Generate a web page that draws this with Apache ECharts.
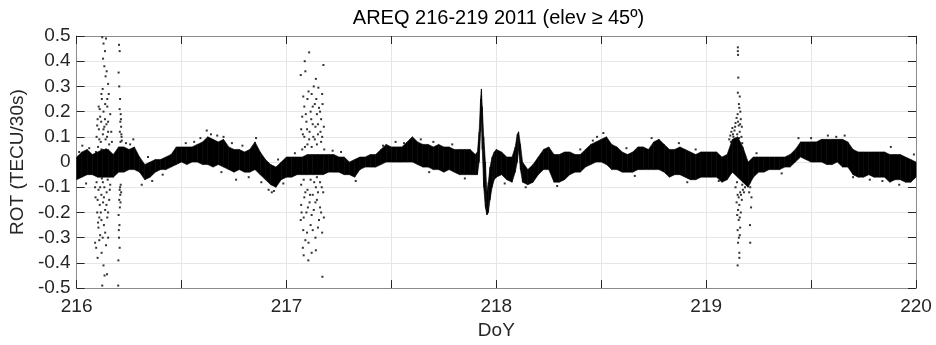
<!DOCTYPE html>
<html><head><meta charset="utf-8">
<script src="https://cdn.jsdelivr.net/npm/echarts@6/dist/echarts.min.js"></script>
<style>html,body{margin:0;padding:0;background:#fff}#c{width:936px;height:345px}</style>
</head><body><div id="c"></div>
<script>
// Dense band of ROT values: day of year, upper and lower edge
const bandDays = [216.000,216.025,216.050,216.075,216.100,216.125,216.150,216.175,216.200,216.225,216.250,216.275,216.300,216.325,216.350,216.375,216.400,216.425,216.450,216.475,216.500,216.525,216.550,216.575,216.600,216.625,216.650,216.675,216.700,216.725,216.750,216.775,216.800,216.825,216.850,216.875,216.900,216.925,216.950,216.975,
217.000,217.025,217.050,217.075,217.100,217.125,217.150,217.175,217.200,217.225,217.250,217.275,217.300,217.325,217.350,217.375,217.400,217.425,217.450,217.475,217.500,217.525,217.550,217.575,217.600,217.625,217.650,217.675,217.700,217.725,217.750,217.775,217.800,217.825,217.850,217.875,217.900,217.910,217.918,217.925,217.929,217.933,217.940,217.948,217.955,217.962,217.970,217.980,217.990,
218.000,218.025,218.050,218.075,218.090,218.100,218.106,218.115,218.125,218.150,218.175,218.200,218.225,218.250,218.275,218.300,218.325,218.350,218.375,218.400,218.425,218.450,218.475,218.500,218.525,218.550,218.575,218.600,218.625,218.650,218.675,218.700,218.725,218.750,218.775,218.800,218.825,218.850,218.875,218.900,218.925,218.950,218.975,
219.000,219.025,219.050,219.075,219.100,219.125,219.150,219.175,219.200,219.225,219.250,219.275,219.300,219.325,219.350,219.375,219.400,219.425,219.450,219.475,219.500,219.525,219.550,219.575,219.600,219.625,219.650,219.675,219.700,219.725,219.750,219.775,219.800,219.825,219.850,219.875,219.900,219.925,219.950,219.975,220.000];
const bandTop = [0.02,0.04,0.05,0.03,0.04,0.05,0.05,0.03,0.06,0.06,0.05,0.06,0.02,-0.01,0.00,0.01,0.01,0.02,0.03,0.06,0.06,0.06,0.06,0.07,0.08,0.10,0.09,0.08,0.09,0.06,0.05,0.05,0.04,0.05,0.08,0.04,0.01,-0.01,-0.02,0.00,
0.02,0.02,0.02,0.02,0.03,0.03,0.03,0.03,0.03,0.03,0.02,0.02,0.00,0.01,0.02,0.02,0.03,0.03,0.05,0.07,0.06,0.06,0.06,0.08,0.10,0.08,0.07,0.07,0.06,0.07,0.06,0.06,0.05,0.05,0.05,0.05,0.03,0.04,0.12,0.25,0.29,0.22,0.10,0.00,-0.12,-0.08,-0.02,0.02,0.04,
0.05,0.04,0.02,0.02,0.06,0.11,0.12,0.07,0.00,-0.03,-0.01,0.02,0.05,0.06,0.03,0.03,0.04,0.04,0.03,0.03,0.05,0.07,0.08,0.09,0.10,0.07,0.06,0.04,0.03,0.04,0.06,0.06,0.05,0.08,0.09,0.07,0.05,0.05,0.06,0.05,0.04,0.03,0.04,
0.04,0.04,0.04,0.02,0.03,0.09,0.10,0.06,0.00,0.02,0.02,0.02,0.02,0.02,0.02,0.02,0.03,0.05,0.08,0.08,0.08,0.08,0.09,0.09,0.09,0.09,0.09,0.08,0.05,0.04,0.04,0.04,0.04,0.04,0.04,0.03,0.03,0.03,0.02,0.01,0.00];
const bandBottom = [-0.07,-0.06,-0.05,-0.05,-0.06,-0.06,-0.06,-0.06,-0.04,-0.04,-0.03,-0.03,-0.04,-0.07,-0.06,-0.04,-0.03,-0.03,-0.02,-0.01,0.00,-0.01,0.00,0.00,-0.01,-0.01,-0.02,-0.01,-0.02,-0.03,-0.04,-0.03,-0.04,-0.04,-0.03,-0.05,-0.07,-0.09,-0.10,-0.07,
-0.06,-0.06,-0.05,-0.05,-0.05,-0.05,-0.05,-0.05,-0.04,-0.04,-0.04,-0.05,-0.05,-0.06,-0.03,-0.02,-0.02,-0.02,-0.01,0.00,0.00,0.00,0.00,0.00,0.00,-0.01,-0.02,-0.02,-0.03,-0.03,-0.04,-0.03,-0.04,-0.05,-0.05,-0.05,-0.05,-0.05,0.00,0.12,0.18,0.05,-0.10,-0.18,-0.21,-0.20,-0.15,-0.10,-0.07,
-0.06,-0.05,-0.07,-0.08,-0.04,0.00,0.05,-0.03,-0.08,-0.09,-0.08,-0.05,-0.03,-0.03,-0.08,-0.08,-0.07,-0.05,-0.04,-0.04,-0.02,-0.01,0.00,0.00,-0.01,-0.03,-0.03,-0.04,-0.04,-0.04,-0.03,-0.03,-0.03,-0.03,-0.03,-0.04,-0.06,-0.05,-0.05,-0.06,-0.07,-0.07,-0.06,
-0.06,-0.06,-0.06,-0.08,-0.07,-0.04,-0.06,-0.08,-0.10,-0.06,-0.04,-0.04,-0.03,-0.03,-0.03,-0.02,-0.02,0.00,0.02,0.01,0.00,0.00,0.00,-0.01,-0.01,0.00,-0.02,-0.02,-0.05,-0.06,-0.06,-0.05,-0.06,-0.06,-0.06,-0.08,-0.07,-0.07,-0.08,-0.08,-0.06];

// Scattered samples outside the dense band: [day, ROT]
const scatterPoints = [
[216.122,0.495],[216.140,0.49],[216.128,0.47],[216.135,0.44],[216.126,0.41],[216.132,0.38],[216.143,0.36],[216.138,0.34],[216.150,0.31],[216.124,0.29],[216.153,0.27],[216.120,0.25],[216.136,0.23],[216.146,0.22],[216.110,0.21],[216.128,0.20],[216.160,0.19],[216.100,0.17],[216.117,0.16],[216.142,0.15],[216.132,0.14],[216.106,0.13],[216.150,0.12],[216.125,0.11],[216.095,0.10],[216.138,0.09],[216.115,0.08],[216.155,0.07],[216.102,0.06],
[216.105,0.22],[216.112,0.18],[216.135,0.17],[216.150,0.16],[216.098,0.145],[216.128,0.13],[216.145,0.10],[216.108,0.09],[216.118,0.05],[216.140,0.05],[216.092,0.04],[216.155,0.03],[216.165,0.12],[216.168,0.08],[216.118,0.27],[216.146,0.25],
[216.202,0.465],[216.205,0.44],[216.200,0.355],[216.203,0.30],[216.207,0.25],[216.205,0.21],[216.210,0.19],[216.208,0.16],[216.212,0.14],[216.206,0.12],[216.214,0.10],[216.209,0.08],[216.211,0.17],[216.213,0.11],[216.215,0.085],
[216.122,-0.49],[216.133,-0.45],[216.145,-0.445],[216.128,-0.41],[216.100,-0.38],[216.088,-0.32],[216.093,-0.34],[216.112,-0.29],[216.124,-0.30],[216.140,-0.33],[216.150,-0.30],[216.104,-0.26],[216.130,-0.25],[216.118,-0.23],[216.146,-0.22],[216.098,-0.20],[216.136,-0.19],[216.110,-0.17],[216.126,-0.16],[216.155,-0.15],[216.090,-0.14],[216.118,-0.13],[216.143,-0.12],[216.104,-0.11],[216.132,-0.10],[216.160,-0.09],[216.095,-0.08],[216.125,-0.08],
[216.108,-0.22],[216.115,-0.20],[216.142,-0.17],[216.150,-0.20],[216.100,-0.15],[216.130,-0.14],[216.112,-0.10],[216.148,-0.07],[216.120,-0.065],[216.088,-0.10],[216.158,-0.11],[216.136,-0.28],[216.108,-0.31],[216.119,-0.36],[216.102,-0.24],
[216.198,-0.49],[216.199,-0.39],[216.202,-0.30],[216.204,-0.25],[216.200,-0.21],[216.206,-0.18],[216.203,-0.15],[216.208,-0.13],[216.205,-0.11],[216.210,-0.09],[216.207,-0.10],[216.212,-0.12],[216.209,-0.16],[216.201,-0.27],[216.205,-0.34],
[217.108,0.435],[217.087,0.40],[217.176,0.385],[217.068,0.345],[217.090,0.36],[217.140,0.33],[217.130,0.30],[217.152,0.295],[217.120,0.27],[217.170,0.27],[217.100,0.25],[217.135,0.23],[217.085,0.22],[217.155,0.215],[217.115,0.20],[217.145,0.19],[217.075,0.18],[217.165,0.17],[217.095,0.16],[217.125,0.15],[217.178,0.14],[217.070,0.13],[217.110,0.12],[217.150,0.11],[217.085,0.10],[217.135,0.09],[217.165,0.08],[217.100,0.07],[217.120,0.06],[217.075,0.05],[217.180,0.05],
[217.080,0.26],[217.105,0.28],[217.125,0.22],[217.142,0.25],[217.160,0.20],[217.172,0.23],[217.092,0.19],[217.118,0.17],[217.138,0.14],[217.150,0.15],[217.162,0.12],[217.098,0.13],[217.078,0.11],[217.128,0.10],[217.145,0.07],[217.170,0.10],[217.108,0.09],[217.088,0.06],
[217.171,-0.455],[217.104,-0.39],[217.082,-0.37],[217.120,-0.36],[217.140,-0.35],[217.078,-0.34],[217.090,-0.31],[217.105,-0.32],[217.138,-0.30],[217.170,-0.28],[217.068,-0.23],[217.082,-0.22],[217.178,-0.22],[217.115,-0.25],[217.150,-0.26],[217.095,-0.20],[217.130,-0.19],[217.160,-0.18],[217.070,-0.17],[217.110,-0.16],[217.145,-0.15],[217.085,-0.14],[217.125,-0.13],[217.175,-0.12],[217.100,-0.11],[217.140,-0.10],[217.070,-0.09],[217.160,-0.08],[217.115,-0.07],
[217.080,-0.27],[217.098,-0.28],[217.125,-0.27],[217.155,-0.23],[217.165,-0.20],[217.072,-0.20],[217.102,-0.18],[217.120,-0.21],[217.138,-0.16],[217.150,-0.12],[217.090,-0.12],[217.112,-0.13],[217.132,-0.08],[217.168,-0.10],[217.082,-0.07],[217.145,-0.06],
[219.151,0.455],[219.151,0.44],[219.152,0.425],[219.153,0.335],[219.151,0.275],[219.160,0.26],[219.156,0.23],[219.158,0.215],[219.163,0.20],[219.150,0.19],[219.145,0.175],[219.165,0.17],[219.140,0.155],[219.155,0.145],[219.170,0.14],[219.125,0.135],[219.135,0.125],[219.160,0.12],[219.148,0.11],[219.115,0.105],[219.130,0.10],
[219.120,0.12],[219.128,0.11],[219.138,0.14],[219.142,0.09],[219.152,0.16],[219.162,0.15],[219.168,0.10],[219.118,0.08],[219.110,0.09],[219.133,0.08],[219.157,0.095],[219.172,0.075],
[219.150,-0.41],[219.158,-0.38],[219.152,-0.32],[219.210,-0.32],[219.156,-0.30],[219.160,-0.29],[219.150,-0.27],[219.162,-0.26],[219.209,-0.25],[219.155,-0.23],[219.148,-0.21],[219.165,-0.20],[219.214,-0.18],[219.158,-0.17],[219.145,-0.16],[219.170,-0.15],[219.216,-0.14],[219.150,-0.13],[219.162,-0.12],[219.175,-0.11],[219.140,-0.10],[219.210,-0.10],
[219.152,-0.19],[219.160,-0.22],[219.155,-0.14],[219.166,-0.13],[219.172,-0.09],[219.180,-0.12],[219.185,-0.10],[219.195,-0.09],[219.205,-0.12],[219.208,-0.08],[219.147,-0.08],[219.158,-0.36],
[216.027,0.065],[216.045,-0.085],[216.270,0.09],[216.310,-0.09],[216.410,-0.05],[216.620,0.125],[216.640,0.11],[216.700,0.10],[216.760,-0.07],[216.855,0.095],[216.880,-0.08],[216.915,-0.11],[216.930,-0.12],[216.940,-0.115],
[216.012,0.04],[216.060,0.055],[216.235,0.075],[216.255,0.07],[216.340,0.02],[216.360,-0.075],[216.520,0.075],[216.560,0.08],[216.590,0.095],[216.670,0.105],[216.690,-0.04],[216.740,0.075],[216.790,0.065],[216.820,-0.06],[216.960,0.01],[216.985,-0.085],
[217.040,0.035],[217.220,0.045],[217.260,0.04],[217.330,-0.075],[217.460,0.065],[217.520,0.08],[217.560,0.075],[217.640,0.09],[217.680,-0.04],[217.700,0.08],[217.790,0.07],[217.850,-0.065],
[218.040,-0.085],[218.140,-0.10],[218.290,-0.095],[218.400,0.05],[218.460,0.085],[218.480,0.10],[218.510,0.115],[218.620,0.055],[218.660,-0.055],[218.740,0.095],[218.870,0.075],[218.910,-0.08],[218.950,0.05],
[219.060,-0.075],[219.240,0.035],[219.360,-0.045],[219.440,0.095],[219.500,0.095],[219.580,0.105],[219.620,0.10],[219.660,0.105],[219.700,-0.06],[219.780,-0.07],[219.840,-0.075],[219.880,0.06],[219.920,-0.09],[219.990,0.03]
];

const xTicks = {min: 216, max: 220, step: 0.5};
const yTicks = {min: -0.5, max: 0.5, step: 0.1};

const font = 'Liberation Sans, Arial, Helvetica, sans-serif';
const bandData = bandDays.map((d, i) => [d, bandTop[i], bandBottom[i]]);
const axisCol = '#8c8c8c';
const tickStyle = {show: true, inside: true, length: 8, lineStyle: {color: '#262626', width: 1}};

function renderBand(params, api) {
  const i = params.dataIndex;
  if (i >= bandData.length - 1) return null;
  const a = bandData[i], b = bandData[i + 1];
  const pts = [api.coord([a[0], a[1]]), api.coord([b[0], b[1]]), api.coord([b[0], b[2]]), api.coord([a[0], a[2]])];
  return {type: 'polygon', shape: {points: pts}, style: {fill: '#000', stroke: '#000', lineWidth: 0.6}};
}

const chart = echarts.init(document.getElementById('c'), null, {renderer: 'canvas'});
chart.setOption({
  animation: false,
  backgroundColor: '#ffffff',
  title: {
    text: 'AREQ 216-219 2011 (elev \u2265 45\u00ba)',
    left: 493.5, textAlign: 'center', top: 3,
    textStyle: {fontFamily: font, fontSize: 20, fontWeight: 'normal', color: '#000'}
  },
  grid: {left: 71, right: 20, top: 36, bottom: 52, containLabel: false},
  xAxis: [{
    type: 'value', min: xTicks.min, max: xTicks.max, interval: xTicks.step,
    name: 'DoY', nameLocation: 'middle', nameGap: 26,
    nameTextStyle: {fontFamily: font, fontSize: 19, color: '#262626'},
    axisLine: {show: true, onZero: false, lineStyle: {color: axisCol}},
    axisTick: tickStyle,
    axisLabel: {fontFamily: font, fontSize: 19, color: '#262626', margin: 9,
      formatter: v => Math.abs(v - Math.round(v)) < 1e-6 ? String(Math.round(v)) : ''},
    splitLine: {show: true, lineStyle: {color: '#e6e6e6', width: 1}}
  }, {
    type: 'value', position: 'top', min: xTicks.min, max: xTicks.max, interval: xTicks.step,
    axisLine: {show: true, onZero: false, lineStyle: {color: axisCol}},
    axisTick: tickStyle, axisLabel: {show: false}, splitLine: {show: false}
  }],
  yAxis: [{
    type: 'value', min: yTicks.min, max: yTicks.max, interval: yTicks.step,
    name: 'ROT (TECU/30s)', nameLocation: 'middle', nameGap: 35, nameRotate: 90,
    nameTextStyle: {fontFamily: font, fontSize: 19, color: '#262626'},
    axisLine: {show: true, onZero: false, lineStyle: {color: axisCol}},
    axisTick: tickStyle,
    axisLabel: {fontFamily: font, fontSize: 19, color: '#262626', margin: 6,
      formatter: v => Math.abs(v) < 1e-9 ? '0' : v.toFixed(1)},
    splitLine: {show: true, lineStyle: {color: '#e6e6e6', width: 1}}
  }, {
    type: 'value', position: 'right', min: yTicks.min, max: yTicks.max, interval: yTicks.step,
    axisLine: {show: true, onZero: false, lineStyle: {color: axisCol}},
    axisTick: tickStyle, axisLabel: {show: false}, splitLine: {show: false}
  }],
  series: [{
    type: 'custom', data: bandData, renderItem: renderBand, z: 3,
    encode: {x: 0, y: [1, 2]}, clip: true
  }, {
    type: 'scatter', data: scatterPoints, symbol: 'rect', symbolSize: 2, z: 4,
    itemStyle: {color: '#000'}
  }]
});
</script></body></html>
